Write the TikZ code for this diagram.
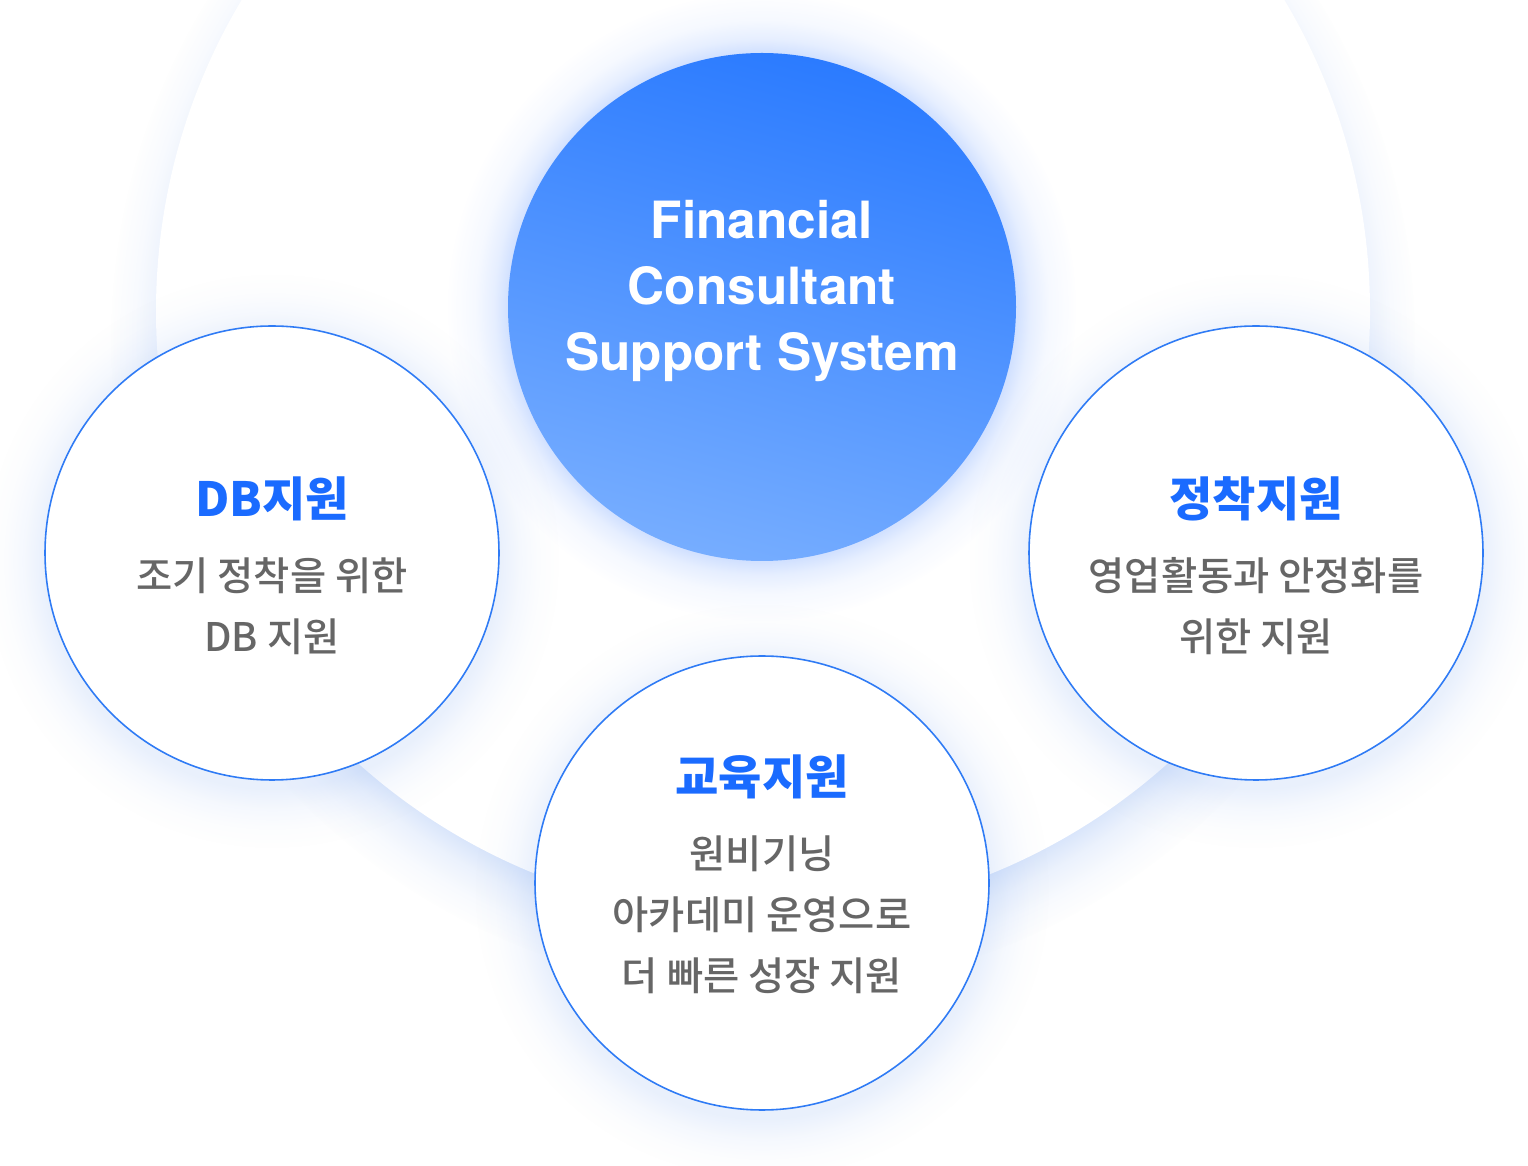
\documentclass[tikz,border=0pt]{standalone}
\usepackage{fontspec}
\setmainfont{Noto Sans CJK KR}
\newfontfamily\hubfont{TeX Gyre Heros}
\newfontfamily\medfont{Noto Sans CJK KR Medium}
\usetikzlibrary{positioning,fadings}

\definecolor{ringblue}{HTML}{2F7BF5}
\definecolor{headblue}{HTML}{1A6BFF}
\definecolor{bodygrey}{HTML}{666666}
\definecolor{hubtop}{HTML}{2B7BFF}
\definecolor{hubbottom}{HTML}{76ADFF}
\definecolor{glowblue}{HTML}{8FB5FF}
\definecolor{shadowblue}{HTML}{9DBDF5}

% soft edges (white = opaque, black = clear); 25bp is the rim of the filled disc
\pgfdeclareradialshading{hubglowshade}{\pgfpointorigin}{color(0bp)=(white!40!black); color(20.2bp)=(white!40!black); color(21.25bp)=(white!22!black); color(22.75bp)=(white!8!black); color(25bp)=(black); color(50bp)=(black)}
\pgfdeclarefading{hubglow}{\pgfuseshading{hubglowshade}}
\pgfdeclareradialshading{bubbleshadeshade}{\pgfpointorigin}{color(0bp)=(white!22!black); color(19.75bp)=(white!22!black); color(21.5bp)=(white!10!black); color(23.25bp)=(white!3!black); color(25bp)=(black); color(50bp)=(black)}
\pgfdeclarefading{bubbleshade}{\pgfuseshading{bubbleshadeshade}}
\pgfdeclareradialshading{backshadeshade}{\pgfpointorigin}{color(0bp)=(white!40!black); color(22.1bp)=(white!40!black); color(23bp)=(white!20!black); color(24bp)=(white!7!black); color(25bp)=(black); color(50bp)=(black)}
\pgfdeclarefading{backshade}{\pgfuseshading{backshadeshade}}

\tikzset{
  bubble/.style={circle, draw=ringblue, line width=0.45pt, fill=white, minimum size=45.4mm, inner sep=0pt},
  hub/.style={circle, minimum size=50.8mm, inner sep=0pt, top color=hubtop, bottom color=hubbottom, shading angle=-15},
  hubtext/.style={text=white, align=center, font=\hubfont\fontsize{14.6}{18.8}\selectfont\bfseries},
  head/.style={text=headblue, font=\fontsize{13.4}{16}\selectfont\bfseries},
  body/.style={text=bodygrey, align=center, font=\medfont\fontsize{11.2}{17.4}\selectfont}
}

\begin{document}
\begin{tikzpicture}[x=0.1mm, y=-0.1mm]

      \fill[white] (0,0) rectangle (1528,1166);
      \useasboundingbox (0,0) rectangle (1528,1166);

      % Back disc with its soft shadow
      \coordinate (back) at (763,311);
      \fill[shadowblue, path fading=backshade] (763,341) circle (652);
      \fill[white] (back) circle (607);

      % Glow round the centre
      \fill[glowblue, path fading=hubglow] (762,307) circle (314);
      \node[hub] (hub) at (762,307) {};
      \node[hubtext] (hubtxt) at (762,291) {Financial\\Consultant\\Support System};

      % Shadows of the three topics
      \foreach \cx/\cy in {272/553, 1256/553, 762/883}
        \fill[shadowblue, path fading=bubbleshade] (\cx,\cy+8) circle (287);

      \node[bubble] (db) at (272,553) {};
      \node[bubble] (settle) at (1256,553) {};
      \node[bubble] (edu) at (762,883) {};

      \node[head] (dbhead) at (272,499) {DB지원};
      \node[body] (dbbody) at (272,606) {조기 정착을 위한\\DB 지원};

      \node[head] (settlehead) at (1256,499) {정착지원};
      \node[body] (settlebody) at (1256,606) {영업활동과 안정화를\\위한 지원};

      \node[head] (eduhead) at (762,777) {교육지원};
      \node[body] (edubody) at (762,915) {원비기닝\\아카데미 운영으로\\더 빠른 성장 지원};

\end{tikzpicture}
\end{document}
